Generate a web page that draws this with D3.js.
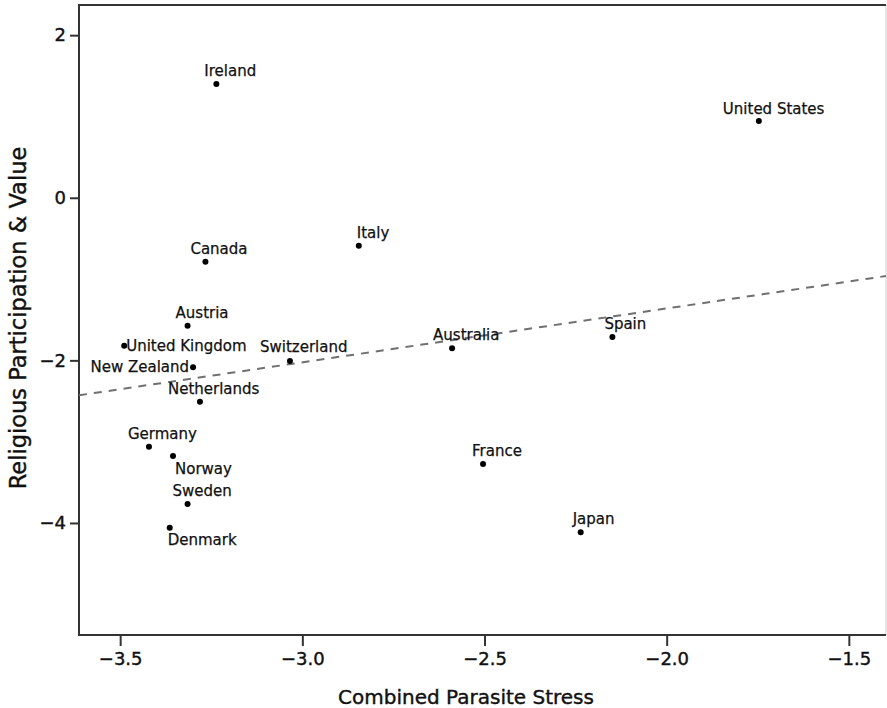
<!DOCTYPE html>
<html>
<head>
<meta charset="utf-8">
<script src="https://cdn.jsdelivr.net/npm/d3@7"></script>
<style>
    body { margin: 0; background: #fff; }
    svg { display: block; font-family: "DejaVu Sans", Verdana, sans-serif; }
</style>
</head>
<body>
<svg id="svg"></svg>
<script>
// countries and their scores
const countries = ["Ireland", "United States", "Italy", "Canada", "Austria", "United Kingdom",
    "New Zealand", "Switzerland", "Netherlands", "Germany", "Norway", "Sweden", "Denmark",
    "Australia", "Spain", "France", "Japan"];
const parasiteStress = [-3.236, -1.747, -2.845, -3.266, -3.315, -3.489,
    -3.300, -3.034, -3.281, -3.421, -3.355, -3.315, -3.364,
    -2.589, -2.149, -2.504, -2.236];
const religiosity = [1.400, 0.945, -0.589, -0.786, -1.573, -1.819,
    -2.085, -2.007, -2.508, -3.062, -3.176, -3.766, -4.058,
    -1.851, -1.712, -3.274, -4.114];

const xTicks = [-3.5, -3.0, -2.5, -2.0, -1.5];
const yTicks = [-4, -2, 0, 2];

const xTitle = "Combined Parasite Stress";
const yTitle = "Religious Participation & Value";

// where each label sits relative to its dot (dx, dy, anchor)
const labelPlacement = {
    "Ireland": [-12, -8, "start"],
    "United States": [-36, -7, "start"],
    "Italy": [-2, -8, "start"],
    "Canada": [-15, -8, "start"],
    "Austria": [-12, -8, "start"],
    "United Kingdom": [2, 5, "start"],
    "New Zealand": [-4, 5, "end"],
    "Switzerland": [-30, -9, "start"],
    "Netherlands": [-32, -8, "start"],
    "Germany": [-21, -8, "start"],
    "Norway": [2, 18, "start"],
    "Sweden": [-15, -8, "start"],
    "Denmark": [-2, 17, "start"],
    "Australia": [-19, -8, "start"],
    "Spain": [-8, -8, "start"],
    "France": [-11, -8, "start"],
    "Japan": [-8, -8, "start"]
};

const width = 887;
const height = 708;
const plot = { left: 79, right: 886, top: 5, bottom: 635 };

let svg = d3.select("#svg")
    .attr("width", width)
    .attr("height", height);

let data = countries.map((c, i) => ({ name: c, x: parasiteStress[i], y: religiosity[i] }));

let xScale = d3.scaleLinear()
    .domain([-3.613, -1.398])
    .range([plot.left, plot.right]);

let yScale = d3.scaleLinear()
    .domain([-5.378, 2.371])
    .range([plot.bottom, plot.top]);

// frame
svg.append("rect")
    .attr("x", plot.left)
    .attr("y", plot.top)
    .attr("width", plot.right - plot.left)
    .attr("height", plot.bottom - plot.top)
    .attr("fill", "none")
    .attr("stroke", "#d0d0d0")
    .attr("stroke-width", 1);

svg.append("path")
    .attr("d", `M${plot.right},${plot.top}H${plot.left}V${plot.bottom}H${plot.right}`)
    .attr("fill", "none")
    .attr("stroke", "#333")
    .attr("stroke-width", 2);

// axes
let xAxis = svg.append("g")
    .attr("transform", `translate(0,${plot.bottom})`)
    .call(d3.axisBottom(xScale).tickValues(xTicks).tickFormat(d3.format(".1f")).tickSize(11).tickPadding(6));

let yAxis = svg.append("g")
    .attr("transform", `translate(${plot.left},0)`)
    .call(d3.axisLeft(yScale).tickValues(yTicks).tickFormat(d3.format("d")).tickSize(9).tickPadding(4));

[xAxis, yAxis].forEach(ax => {
    ax.select(".domain").remove();
    ax.selectAll(".tick line").attr("stroke", "#333").attr("stroke-width", 2);
    ax.selectAll(".tick text")
        .attr("fill", "#111")
        .attr("stroke", "#111")
        .attr("stroke-width", 0.4)
        .style("font-family", "'DejaVu Sans', sans-serif")
        .style("font-size", "18px");
});

// least squares fit line
let mx = d3.mean(data, d => d.x);
let my = d3.mean(data, d => d.y);
let slope = d3.sum(data, d => (d.x - mx) * (d.y - my)) / d3.sum(data, d => (d.x - mx) * (d.x - mx));
let intercept = my - slope * mx;
let [x0, x1] = xScale.domain();

svg.append("line")
    .attr("x1", xScale(x0))
    .attr("y1", yScale(intercept + slope * x0))
    .attr("x2", xScale(x1))
    .attr("y2", yScale(intercept + slope * x1))
    .attr("stroke", "#707070")
    .attr("stroke-width", 2)
    .attr("stroke-dasharray", "8,7");

// points
svg.append("g")
    .selectAll("circle")
    .data(data)
    .join("circle")
    .attr("cx", d => xScale(d.x))
    .attr("cy", d => yScale(d.y))
    .attr("r", 3)
    .attr("fill", "#000");

// point labels
svg.append("g")
    .selectAll("text")
    .data(data)
    .join("text")
    .attr("x", d => xScale(d.x) + labelPlacement[d.name][0])
    .attr("y", d => yScale(d.y) + labelPlacement[d.name][1])
    .attr("text-anchor", d => labelPlacement[d.name][2])
    .style("font-size", "15px")
    .attr("fill", "#111")
    .attr("stroke", "#111")
    .attr("stroke-width", 0.25)
    .text(d => d.name);

// axis titles
svg.append("text")
    .attr("x", 466)
    .attr("y", 704)
    .attr("text-anchor", "middle")
    .style("font-size", "20px")
    .attr("fill", "#111")
    .attr("stroke", "#111")
    .attr("stroke-width", 0.4)
    .text(xTitle);

svg.append("text")
    .attr("transform", "translate(26,318) rotate(-90)")
    .attr("text-anchor", "middle")
    .style("font-size", "22.5px")
    .attr("fill", "#111")
    .attr("stroke", "#111")
    .attr("stroke-width", 0.4)
    .text(yTitle);
</script>
</body>
</html>
